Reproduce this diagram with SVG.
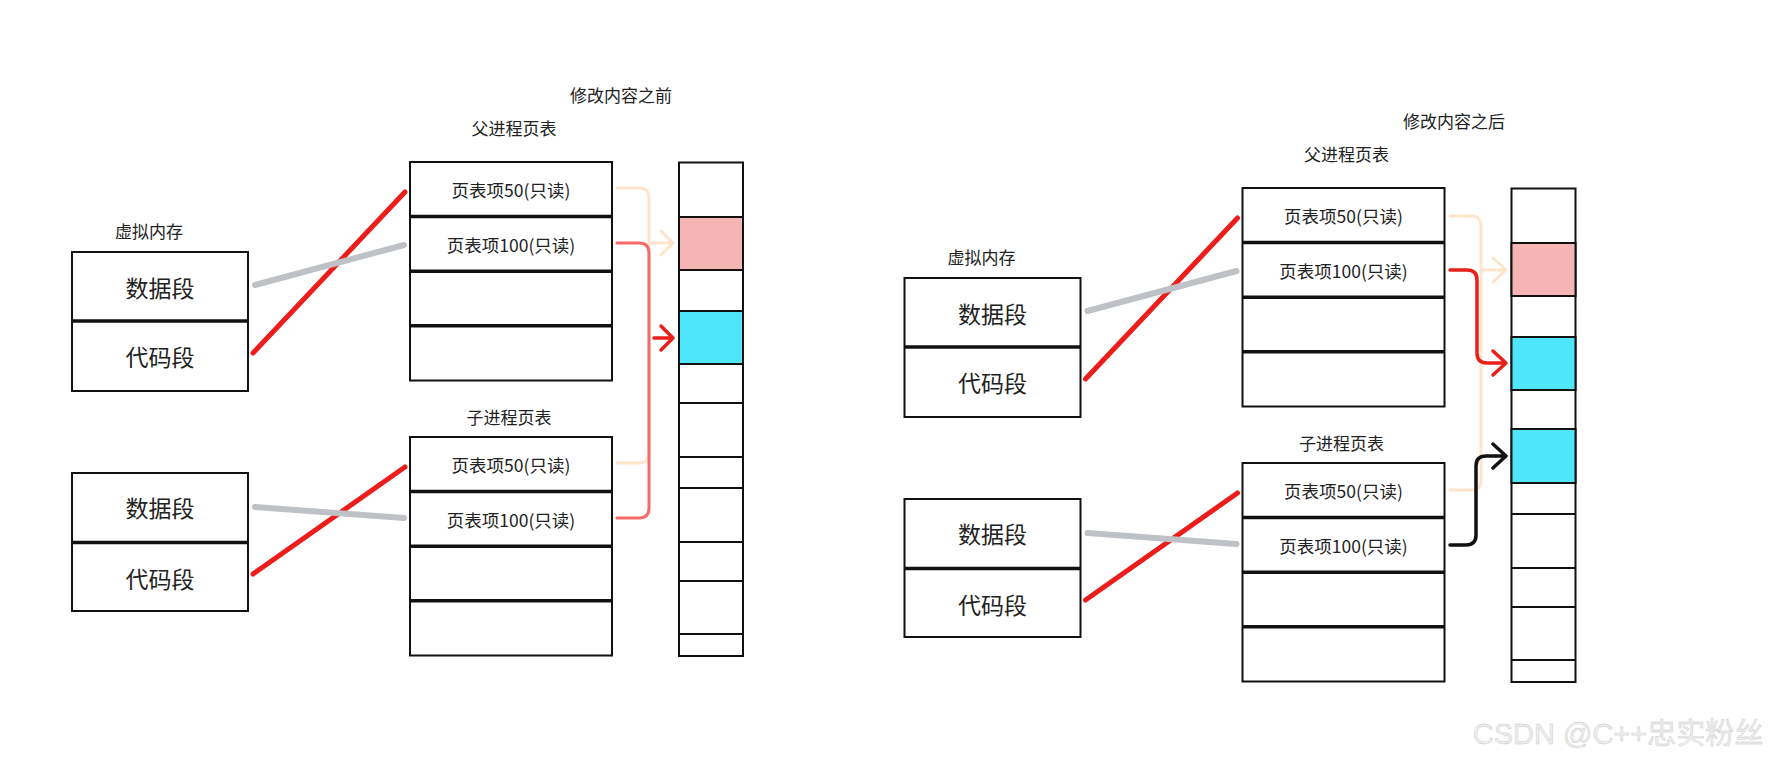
<svg xmlns="http://www.w3.org/2000/svg" width="1788" height="764" viewBox="0 0 1788 764">
<style>
text{font-family:"Noto Sans CJK SC","Noto Sans",sans-serif;fill:#222;text-anchor:middle;dominant-baseline:central}
.lbl{font-size:17px}
.seg{font-size:23px}
.ent{font-size:17.5px}
.box{fill:#fff;stroke:#111;stroke-width:2}
.div{stroke:#111;stroke-width:3.5}
.thin{stroke:#111;stroke-width:2}
.pink{fill:#F6B5B5;stroke:#111;stroke-width:2}
.cyan{fill:#4EE6FA;stroke:#111;stroke-width:2}
.red{stroke:#EC1D1B;stroke-width:5;stroke-linecap:round;fill:none}
.gray{stroke:#BEC1C5;stroke-width:6;stroke-linecap:round;fill:none}
.peach{stroke:#FFE5CB;stroke-width:3;fill:none;stroke-linecap:round;stroke-linejoin:round}
.salmon{stroke:#F46B6B;stroke-width:3;fill:none;stroke-linecap:round;stroke-linejoin:round}
.rarr{stroke:#E8201A;stroke-width:3.5;fill:none;stroke-linecap:round;stroke-linejoin:round}
.barr{stroke:#111;stroke-width:3.5;fill:none;stroke-linecap:round;stroke-linejoin:round}
</style>
<rect width="1788" height="764" fill="#fff"/>

<!-- LEFT: before -->
<g id="title-before"><text class="lbl" x="621" y="94">修改内容之前</text></g>
<g id="vm-label-1"><text class="lbl" x="149" y="230">虚拟内存</text></g>
<g id="vm-parent-1">
  <rect class="box" x="72" y="252" width="176" height="139"/>
  <line class="div" x1="72" y1="321" x2="248" y2="321"/>
  <text class="seg" x="160" y="287">数据段</text>
  <text class="seg" x="160" y="356">代码段</text>
</g>
<g id="vm-child-1">
  <rect class="box" x="72" y="473" width="176" height="138"/>
  <line class="div" x1="72" y1="542.5" x2="248" y2="542.5"/>
  <text class="seg" x="160" y="507">数据段</text>
  <text class="seg" x="160" y="578">代码段</text>
</g>
<g id="parent-table-1">
  <text class="lbl" x="514" y="127">父进程页表</text>
  <rect class="box" x="410" y="162" width="202" height="218.5"/>
  <line class="div" x1="410" y1="216.6" x2="612" y2="216.6"/>
  <line class="div" x1="410" y1="271.2" x2="612" y2="271.2"/>
  <line class="div" x1="410" y1="325.8" x2="612" y2="325.8"/>
  <text class="ent" x="511" y="189">页表项50(只读)</text>
  <text class="ent" x="511" y="244">页表项100(只读)</text>
</g>
<g id="child-table-1">
  <text class="lbl" x="509" y="416">子进程页表</text>
  <rect class="box" x="410" y="437" width="202" height="218.5"/>
  <line class="div" x1="410" y1="491.6" x2="612" y2="491.6"/>
  <line class="div" x1="410" y1="546.2" x2="612" y2="546.2"/>
  <line class="div" x1="410" y1="600.8" x2="612" y2="600.8"/>
  <text class="ent" x="511" y="464">页表项50(只读)</text>
  <text class="ent" x="511" y="519">页表项100(只读)</text>
</g>
<g id="memory-1">
  <rect class="box" x="679" y="162.5" width="64" height="493.5"/>
  <rect class="pink" x="679" y="217" width="64" height="53"/>
  <rect class="cyan" x="679" y="311" width="64" height="53"/>
  <line class="thin" x1="679" y1="403" x2="743" y2="403"/>
  <line class="thin" x1="679" y1="457" x2="743" y2="457"/>
  <line class="thin" x1="679" y1="488" x2="743" y2="488"/>
  <line class="thin" x1="679" y1="542" x2="743" y2="542"/>
  <line class="thin" x1="679" y1="581" x2="743" y2="581"/>
  <line class="thin" x1="679" y1="634" x2="743" y2="634"/>
</g>

<!-- RIGHT: after -->
<g id="title-after"><text class="lbl" x="1454" y="120">修改内容之后</text></g>
<g id="vm-label-2"><text class="lbl" x="981.5" y="256">虚拟内存</text></g>
<g id="vm-parent-2" transform="translate(832.5,26)">
  <rect class="box" x="72" y="252" width="176" height="139"/>
  <line class="div" x1="72" y1="321" x2="248" y2="321"/>
  <text class="seg" x="160" y="287">数据段</text>
  <text class="seg" x="160" y="356">代码段</text>
</g>
<g id="vm-child-2" transform="translate(832.5,26)">
  <rect class="box" x="72" y="473" width="176" height="138"/>
  <line class="div" x1="72" y1="542.5" x2="248" y2="542.5"/>
  <text class="seg" x="160" y="507">数据段</text>
  <text class="seg" x="160" y="578">代码段</text>
</g>
<g id="parent-table-2" transform="translate(832.5,26)">
  <text class="lbl" x="514" y="127">父进程页表</text>
  <rect class="box" x="410" y="162" width="202" height="218.5"/>
  <line class="div" x1="410" y1="216.6" x2="612" y2="216.6"/>
  <line class="div" x1="410" y1="271.2" x2="612" y2="271.2"/>
  <line class="div" x1="410" y1="325.8" x2="612" y2="325.8"/>
  <text class="ent" x="511" y="189">页表项50(只读)</text>
  <text class="ent" x="511" y="244">页表项100(只读)</text>
</g>
<g id="child-table-2" transform="translate(832.5,26)">
  <text class="lbl" x="509" y="416">子进程页表</text>
  <rect class="box" x="410" y="437" width="202" height="218.5"/>
  <line class="div" x1="410" y1="491.6" x2="612" y2="491.6"/>
  <line class="div" x1="410" y1="546.2" x2="612" y2="546.2"/>
  <line class="div" x1="410" y1="600.8" x2="612" y2="600.8"/>
  <text class="ent" x="511" y="464">页表项50(只读)</text>
  <text class="ent" x="511" y="519">页表项100(只读)</text>
</g>
<g id="memory-2" transform="translate(832.5,26)">
  <rect class="box" x="679" y="162.5" width="64" height="493.5"/>
  <rect class="pink" x="679" y="217" width="64" height="53"/>
  <rect class="cyan" x="679" y="311" width="64" height="53"/>
  <rect class="cyan" x="679" y="403" width="64" height="54"/>
  <line class="thin" x1="679" y1="488" x2="743" y2="488"/>
  <line class="thin" x1="679" y1="542" x2="743" y2="542"/>
  <line class="thin" x1="679" y1="581" x2="743" y2="581"/>
  <line class="thin" x1="679" y1="634" x2="743" y2="634"/>
</g>

<g id="connectors">
  <!-- left mapping lines -->
  <line class="red" x1="253" y1="353" x2="405" y2="192"/>
  <line class="gray" x1="255" y1="285" x2="404" y2="245"/>
  <line class="red" x1="253" y1="574" x2="405" y2="467"/>
  <line class="gray" x1="255" y1="507" x2="404" y2="518"/>
  <!-- left table to memory -->
  <path class="peach" d="M617,188 H639 Q649,188 649,198 V453 Q649,463 639,463 H617"/>
  <path class="peach" d="M649,243 H673 M661,231 L673,243 L661,255"/>
  <path class="salmon" d="M617,243 H639 Q649,243 649,253 V508 Q649,518 639,518 H617"/>
  <path class="rarr" d="M654,338 H673 M661,326 L673,338 L661,350"/>

  <!-- right mapping lines -->
  <line class="red" x1="1085.5" y1="379" x2="1237.5" y2="218"/>
  <line class="gray" x1="1087.5" y1="311" x2="1236.5" y2="271"/>
  <line class="red" x1="1085.5" y1="600" x2="1237.5" y2="493"/>
  <line class="gray" x1="1087.5" y1="533" x2="1236.5" y2="544"/>
  <!-- right table to memory -->
  <path class="peach" d="M1450,216 H1471 Q1481,216 1481,226 V480 Q1481,490 1471,490 H1450"/>
  <path class="peach" d="M1481,270 H1506 M1493,258 L1506,270 L1493,282"/>
  <path class="rarr" d="M1450,270 H1467 Q1477,270 1477,280 V353 Q1477,363 1487,363 H1506 M1493,351 L1506,363 L1493,375"/>
  <path class="barr" d="M1450,545 H1466 Q1476,545 1476,535 V466 Q1476,456 1486,456 H1506 M1493,444 L1506,456 L1493,468"/>
</g>

<g id="watermark">
  <text x="1618" y="734" style="font-family:'Liberation Sans','Noto Sans CJK SC',sans-serif;font-size:29px;fill:#eeeeee;stroke:#c6c6c6;stroke-width:0.4">CSDN @C++忠实粉丝</text>
</g>
</svg>
